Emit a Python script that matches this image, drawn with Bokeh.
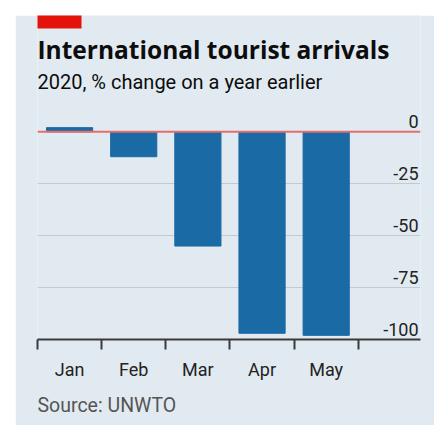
from bokeh.plotting import figure
from bokeh.models import Range1d, FixedTicker, LinearAxis, Title, Span, Grid
from bokeh.core.properties import value
from bokeh.embed import file_html
from bokeh.resources import INLINE

# ---- data ----
months = ["Jan", "Feb", "Mar", "Apr", "May"]
change = [2, -12, -55, -97, -98]
y_ticks = [0, -25, -50, -75, -100]
y_labels = ["0", "-25", "-50", "-75", "-100"]

title_text = "International tourist arrivals"
subtitle_text = "2020, % change on a year earlier"
source_text = "Source: UNWTO"

# ---- style ----
BG = "#e2eaf1"
BAR = "#1a6aa5"
FONT = "Roboto"

xs = [i + 0.5 for i in range(len(months))]
x_end = 5.97
y_end = 56

p = figure(width=419, height=410, output_backend="svg", toolbar_location=None,
           x_range=Range1d(0, x_end), y_range=Range1d(-100, y_end),
           x_axis_location=None, y_axis_location=None,
           min_border_left=22, min_border_right=14, min_border_top=0, min_border_bottom=86,
           background_fill_color=BG, border_fill_color=BG, outline_line_color=None)
p.margin = (15, 0, 0, 15)
p.center = []

grid = Grid(dimension=1, ticker=FixedTicker(ticks=[t for t in y_ticks if t != 0]),
            grid_line_color="#c3cbd2", grid_line_width=1)
p.add_layout(grid)

p.vbar(x=xs, top=change, bottom=0, width=0.72, color=BAR)

p.add_layout(Span(location=0, dimension="width", line_color="#e46e6c", line_width=2))

xaxis = LinearAxis(ticker=FixedTicker(ticks=xs, minor_ticks=list(range(len(months) + 1))),
                   major_label_overrides={x: m for x, m in zip(xs, months)},
                   major_tick_out=0, major_tick_in=0,
                   minor_tick_out=10, minor_tick_in=0,
                   minor_tick_line_color="#3a3a3a", minor_tick_line_width=2,
                   axis_line_color="#3a3a3a", axis_line_width=2,
                   major_label_text_font=FONT, major_label_text_font_size="18px",
                   major_label_text_color="#222222", major_label_standoff=9)
p.add_layout(xaxis, "below")
p.add_layout(Title(text=source_text, align="left", text_font=FONT, text_font_size="19.5px",
                   text_font_style="normal", text_color="#555555", standoff=18), "below")

# value labels at the right, sitting above each gridline
p.text(x=[x_end] * len(y_ticks), y=y_ticks, text=y_labels, text_align="right",
       text_baseline="bottom", x_offset=-2, y_offset=-4,
       text_font=value(FONT), text_font_size="18px", text_color="#222222")

# red tag: a rect centred on the frame's top-left corner, clipped to its lower-right quarter
p.rect(x=[0], y=[y_end], width=88, height=26, width_units="screen", height_units="screen",
       fill_color="#e3120b", line_color=None)

# title and subtitle, drawn from the frame's top-left corner
p.text(x=[0], y=[y_end], text=[title_text], text_align="left",
       text_baseline="bottom", y_offset=50,
       text_font=value("Open Sans"), text_font_style="bold", text_font_size="24.5px",
       text_color="#0d0d0d")
p.text(x=[0], y=[y_end], text=[subtitle_text], text_align="left",
       text_baseline="bottom", y_offset=78,
       text_font=value(FONT), text_font_size="20px", text_color="#0d0d0d")

open("out.html", "w").write(file_html(p, INLINE))
